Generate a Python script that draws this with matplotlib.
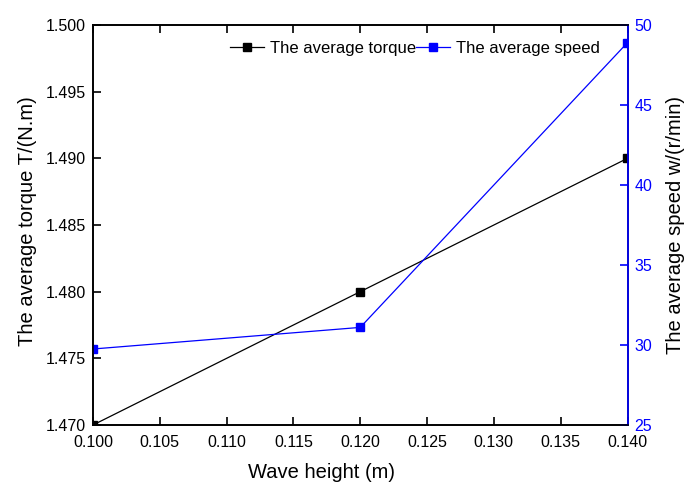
import matplotlib.pyplot as plt
import numpy as np

plt.rcParams['font.family'] = ['Liberation Sans', 'DejaVu Sans']

wave_height = [0.10, 0.12, 0.14]
avg_torque = [1.470, 1.480, 1.490]
avg_speed = [29.75, 31.1, 48.9]

fig = plt.figure(figsize=(6.84, 4.82), dpi=100)
ax1 = fig.add_axes([93 / 684, 1 - 425 / 482, (627.5 - 93) / 684, 400 / 482])
ax2 = ax1.twinx()

l1, = ax1.plot(wave_height, avg_torque, color='black', lw=0.9, marker='s', ms=5.5,
               label='The average torque')
l2, = ax2.plot(wave_height, avg_speed, color='blue', lw=0.9, marker='s', ms=5.5,
               label='The average speed')

ax1.set_xlim(0.100, 0.140)
ax1.set_ylim(1.470, 1.500)
ax2.set_ylim(25, 50)
ax1.set_xticks(np.arange(0.100, 0.1401, 0.005))
ax1.set_yticks(np.arange(1.470, 1.5001, 0.005))
ax2.set_yticks(np.arange(25, 51, 5))
ax1.xaxis.set_major_formatter(plt.FormatStrFormatter('%.3f'))
ax1.yaxis.set_major_formatter(plt.FormatStrFormatter('%.3f'))

ax1.tick_params(axis='x', direction='in', top=True, length=6, width=1.2, labelsize=11.5, pad=7)
ax1.tick_params(axis='y', direction='in', length=6, width=1.2, labelsize=11.5, pad=5)
ax2.tick_params(axis='y', direction='in', length=6, width=1.2, labelsize=11.5, pad=5,
                colors='blue')
for s in ax1.spines.values():
    s.set_linewidth(1.2)
for s in ax2.spines.values():
    s.set_linewidth(1.2)
ax2.spines['right'].set_color('blue')

ax1.set_xlabel('Wave height (m)', fontsize=14.5)
ax1.xaxis.set_label_coords(0.428, -0.094)
ax1.set_ylabel('The average torque T/(N.m)', fontsize=14.5)
ax1.yaxis.set_label_coords(-0.105, 0.51)
ax2.set_ylabel('The average speed w/(r/min)', fontsize=14.5)
ax2.yaxis.set_label_coords(1.072, 0.5)

ax1.legend(handles=[l1, l2], loc='upper left', bbox_to_anchor=(0.235, 0.99), ncol=2,
           frameon=False, fontsize=12, columnspacing=0.0, handlelength=2.0,
           handletextpad=0.4, borderpad=0.2)

fig.savefig('out.png', dpi=100)
